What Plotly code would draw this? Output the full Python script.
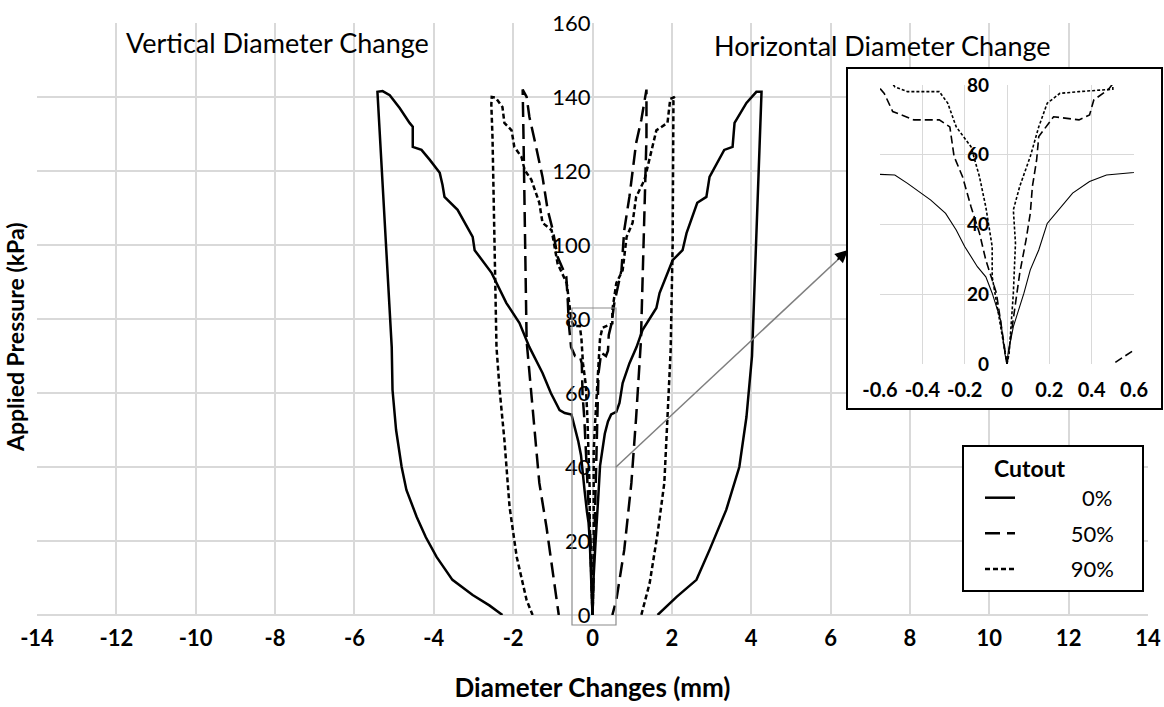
import plotly.graph_objects as go

# ---------------------------------------------------------------------------
# Data: applied pressure (kPa) against diameter change (mm) for three cutouts.
# Negative changes = vertical diameter, positive changes = horizontal diameter.
# Each path runs from zero up the loading branch and back down on unloading.
# ---------------------------------------------------------------------------
cutouts = ["0%", "50%", "90%"]

# 0% cutout
dv_0 = [0, -0.01, -0.03, -0.07, -0.10, -0.14, -0.20, -0.24, -0.29, -0.36, -0.47, -0.53,
        -0.70, -0.83, -1.05, -1.26, -1.59, -1.84, -2.17, -2.54, -2.97, -3.02, -3.40, -3.73,
        -3.78, -3.85, -4.10, -4.31, -4.53, -4.53, -4.61, -4.86, -5.11, -5.29, -5.42,
        -5.06, -5.04, -4.95, -4.81, -4.69, -4.43, -4.20, -3.93, -3.53, -3.02, -2.60, -2.27]
pv_0 = [0, 3, 12.6, 20.3, 25, 27.9, 33.7, 38.4, 43.2, 47, 51.8, 54.2,
        54.6, 55.4, 60, 65.4, 72.4, 78.9, 84.3, 92.4, 98.6, 102.2, 109.5, 113,
        116.2, 119.5, 123, 125.7, 126.5, 132, 133, 137, 140.5, 141.6, 141.4,
        72.4, 60.8, 50, 40, 33.8, 26.5, 21, 15.7, 9.5, 5.4, 2.6, 0]
dh_0 = [0, 0.005, 0.03, 0.08, 0.11, 0.15, 0.19, 0.23, 0.28, 0.31, 0.39, 0.47, 0.60,
        0.68, 0.76, 0.93, 1.11, 1.26, 1.61, 1.69, 2.02, 2.27, 2.37, 2.64, 2.87, 2.95,
        3.32, 3.53, 3.58, 3.88, 4.13, 4.26,
        4.02, 3.88, 3.70, 3.37, 2.95, 2.62, 2.12, 1.64]
ph_0 = [0, 3, 10.7, 20.3, 27, 32.7, 40.3, 43.2, 47, 49, 52.3, 54.2, 54.9,
        57.3, 62.7, 68, 72.4, 77, 83, 87, 95.9, 98.6, 103.2, 111.4, 113, 118.4,
        125.7, 126.5, 133, 138.4, 141.4, 141.4,
        70, 53.5, 40, 28.4, 17.6, 9.5, 4.9, 0]

# 50% cutout
dv_50 = [0, -0.05, -0.10, -0.13, -0.17, -0.21, -0.25, -0.27, -0.32, -0.44, -0.54, -0.58,
         -0.60, -0.62, -0.66, -0.88, -1.00, -1.13, -1.26, -1.46, -1.59, -1.66, -1.76,
         -1.74, -1.70, -1.66, -1.51, -1.34, -1.16, -1.00, -0.88, -0.85]
pv_50 = [0, 20.3, 29.8, 37.5, 45.1, 53.7, 59.5, 68, 70, 70, 72.4, 77.6,
         79, 84.3, 91.4, 96.8, 104, 109.5, 118.4, 128.4, 134.6, 140, 142,
         130, 100, 74, 56, 35.7, 23.8, 11.4, 3.2, 0]
dh_50 = [0, 0.06, 0.09, 0.11, 0.12, 0.14, 0.15, 0.22, 0.34, 0.39, 0.41, 0.48, 0.55,
         0.73, 0.80, 0.93, 1.01, 1.10, 1.23, 1.36,
         1.36, 1.31, 1.26, 1.22, 1.10, 0.98, 0.80, 0.60, 0.50]
ph_50 = [0, 26, 35.6, 43.2, 50.9, 58.5, 65.2, 70.9, 70, 71.4, 75.7, 78.8, 84.3,
         93.2, 104, 113, 120.3, 127.6, 133.8, 142,
         129, 111.4, 93, 74, 53.5, 35.7, 17.6, 4, 0]

# 90% cutout
dv_90 = [0, -0.07, -0.07, -0.10, -0.13, -0.17, -0.24, -0.28, -0.32, -0.47, -0.53, -0.56,
         -0.65, -0.88, -1.03, -1.26, -1.34, -1.54, -1.71, -1.79, -1.97, -2.04, -2.22,
         -2.27, -2.44, -2.54,
         -2.55, -2.52, -2.42, -2.34, -2.22, -2.09, -1.91, -1.66, -1.51]
pv_90 = [0, 25, 33.7, 45, 53.7, 62.3, 68, 74.8, 78.1, 78.1, 79.5, 82,
         89.7, 95, 104, 106, 111.4, 117.6, 120.3, 123.8, 126.5, 131, 133,
         137.3, 139.8, 140,
         138, 129, 72.4, 60.8, 47.3, 29.2, 15.7, 4, 0]
dh_90 = [0, 0.01, 0.03, 0.04, 0.03, 0.06, 0.11, 0.15, 0.19, 0.25, 0.34, 0.50, 0.50,
         0.60, 0.76, 0.86, 1.01, 1.10, 1.31, 1.44, 1.51, 1.61, 1.89, 1.96, 2.07,
         2.04, 2.02, 1.97, 1.89, 1.81, 1.64, 1.44, 1.23]
ph_90 = [0, 3, 20.3, 34.6, 44.2, 50.9, 59.5, 68, 74.8, 77.6, 78.1, 78.8, 82.4,
         89.7, 93.2, 102.2, 106, 113, 117.6, 123.8, 126.5, 131, 133, 139.5, 140,
         139, 100, 71.6, 53.5, 35.7, 22, 8.6, 0]

# Axis ticks
x_ticks = [-14, -12, -10, -8, -6, -4, -2, 0, 2, 4, 6, 8, 10, 12, 14]
x_tick_text = ["-14", "-12", "-10", "-8", "-6", "-4", "-2", "0", "2", "4", "6", "8", "10", "12", "14"]
y_ticks = [0, 20, 40, 60, 80, 100, 120, 140, 160]
y_tick_text = ["0", "20", "40", "60", "80", "100", "120", "140", "160"]
zoom_x_ticks = [-0.6, -0.4, -0.2, 0, 0.2, 0.4, 0.6]
zoom_x_tick_text = ["-0.6", "-0.4", "-0.2", "0", "0.2", "0.4", "0.6"]
zoom_y_ticks = [0, 20, 40, 60, 80]
zoom_y_tick_text = ["0", "20", "40", "60", "80"]

# ---------------------------------------------------------------------------
# Layout helpers
# ---------------------------------------------------------------------------
FIG_W, FIG_H = 1164, 707
MARGIN = dict(l=37, r=2, t=23, b=92)
PLOT_W = FIG_W - MARGIN["l"] - MARGIN["r"]
PLOT_H = FIG_H - MARGIN["t"] - MARGIN["b"]


def px(col):
    """Pixel column -> paper x fraction."""
    return (col - MARGIN["l"]) / PLOT_W


def py(row):
    """Pixel row -> paper y fraction."""
    return (FIG_H - MARGIN["b"] - row) / PLOT_H


FONT = "Lato, 'Open Sans', sans-serif"
GRID = "#d9d9d9"
NBSP = "\u00a0"

series = {
    "0%": (dv_0, pv_0, dh_0, ph_0),
    "50%": (dv_50, pv_50, dh_50, ph_50),
    "90%": (dv_90, pv_90, dh_90, ph_90),
}
main_dash = {"0%": "solid", "50%": "15px,7px", "90%": "5px,3px"}
zoom_dash = {"0%": "solid", "50%": "8px,4px", "90%": "3px,2px"}
zoom_width = {"0%": 1.1, "50%": 1.6, "90%": 1.6}

fig = go.Figure()

# framed white panel behind the enlarged view (an empty trace creates its subplot)
fig.add_trace(go.Scatter(x=[], y=[], xaxis="x2", yaxis="y2",
                         showlegend=False, hoverinfo="skip"))

for name in cutouts:
    dv, pv, dh, ph = series[name]
    xs = dv + [None] + dh
    ys = pv + [None] + ph
    # right-aligned legend labels
    label = NBSP * (11 if len(name) == 2 else 9) + name + NBSP * 4
    fig.add_trace(go.Scatter(
        x=xs, y=ys, mode="lines", name=label, legendgroup=name,
        line=dict(color="black", width=2.5, dash=main_dash[name]),
        xaxis="x", yaxis="y", hoverinfo="skip",
    ))
    # enlarged view of the region around zero
    fig.add_trace(go.Scatter(
        x=xs, y=ys, mode="lines", showlegend=False, legendgroup=name,
        line=dict(color="black", width=zoom_width[name], dash=zoom_dash[name]),
        xaxis="x3", yaxis="y3", hoverinfo="skip",
    ))

main_right = px(1148)
zoom_dom_x = [px(880), px(1134)]

fig.update_layout(
    width=FIG_W, height=FIG_H, margin=MARGIN,
    paper_bgcolor="white", plot_bgcolor="white",
    font=dict(family=FONT, color="black"),
    xaxis=dict(
        domain=[0, main_right], anchor="y", range=[-14, 14], automargin=False,
        tickmode="array", tickvals=x_ticks, ticktext=x_tick_text,
        showgrid=True, gridcolor=GRID, gridwidth=2,
        zeroline=True, zerolinecolor=GRID, zerolinewidth=2,
        showline=False, ticks="", ticklabelstandoff=8,
        tickfont=dict(family=FONT, size=22, color="black", weight="bold"),
        title=dict(text="Diameter Changes (mm)", standoff=28,
                   font=dict(family=FONT, size=26, color="black", weight="bold")),
    ),
    yaxis=dict(
        domain=[0, 1], anchor="free", position=main_right / 2, range=[0, 160],
        automargin=False,
        tickmode="array", tickvals=y_ticks, ticktext=y_tick_text,
        showgrid=True, gridcolor=GRID, gridwidth=2,
        zeroline=True, zerolinecolor=GRID, zerolinewidth=2,
        showline=False, ticks="", ticklabelstandoff=2,
        tickfont=dict(family=FONT, size=22, color="black"),
    ),
    # framed panel holding the enlarged view
    xaxis2=dict(domain=[px(848), px(1161)], anchor="y2", range=[0, 1], automargin=False,
                showgrid=False, zeroline=False, showticklabels=False, ticks="",
                showline=True, mirror=True, linecolor="black", linewidth=2),
    yaxis2=dict(domain=[py(408), py(69)], anchor="x2", range=[0, 1], automargin=False,
                showgrid=False, zeroline=False, showticklabels=False, ticks="",
                showline=True, mirror=True, linecolor="black", linewidth=2),
    xaxis3=dict(
        domain=zoom_dom_x, anchor="y3", range=[-0.6, 0.6], automargin=False,
        tickmode="array", tickvals=zoom_x_ticks, ticktext=zoom_x_tick_text,
        showgrid=True, gridcolor=GRID, gridwidth=1, zeroline=False,
        showline=False, ticks="", ticklabelstandoff=12,
        tickfont=dict(family=FONT, size=20, color="black", weight="bold"),
    ),
    yaxis3=dict(
        domain=[py(364), py(85)], anchor="free", automargin=False,
        position=(zoom_dom_x[0] + zoom_dom_x[1]) / 2, range=[0, 80],
        tickmode="array", tickvals=zoom_y_ticks, ticktext=zoom_y_tick_text,
        showgrid=True, gridcolor=GRID, gridwidth=1, zeroline=False,
        showline=False, ticks="", ticklabelstandoff=18,
        tickfont=dict(family=FONT, size=19, color="black", weight="bold"),
    ),
    legend=dict(
        x=px(962), y=py(445), xanchor="left", yanchor="top",
        bgcolor="white", bordercolor="black", borderwidth=2,
        title=dict(text=NBSP * 5 + "Cutout",
                   font=dict(family=FONT, size=23, color="black", weight="bold")),
        font=dict(family=FONT, size=22, color="black"),
        traceorder="grouped", tracegroupgap=4, indentation=16,
    ),
    showlegend=True,
)

# outline of the enlarged region and the pointer to the panel
fig.add_shape(type="rect", xref="paper", yref="paper",
              x0=px(572), x1=px(616), y0=py(625), y1=py(308),
              line=dict(color="#8c8c8c", width=1.2), fillcolor="rgba(0,0,0,0)", layer="above")
fig.add_shape(type="line", xref="paper", yref="paper",
              x0=px(616), y0=py(467), x1=px(844), y1=py(254),
              line=dict(color="#7f7f7f", width=1.5), layer="above")
fig.add_annotation(x=px(848), y=py(250), xref="paper", yref="paper",
                   ax=-12, ay=11, text="", showarrow=True,
                   arrowhead=2, arrowsize=1.7, arrowwidth=1.5, arrowcolor="black")

# titles
fig.add_annotation(x=px(15), y=py(337), xref="paper", yref="paper", textangle=-90,
                   xanchor="center", yanchor="middle",
                   text="Applied Pressure (kPa)", showarrow=False,
                   font=dict(family=FONT, size=23, color="black", weight="bold"))
fig.add_annotation(x=px(277), y=py(43), xref="paper", yref="paper",
                   xanchor="center", yanchor="middle",
                   text="Vertical Diameter Change", showarrow=False,
                   font=dict(family=FONT, size=27, color="black"))
fig.add_annotation(x=px(882), y=py(45), xref="paper", yref="paper",
                   xanchor="center", yanchor="middle",
                   text="Horizontal Diameter Change", showarrow=False,
                   font=dict(family=FONT, size=27, color="black"))

fig.write_html("out.html")
